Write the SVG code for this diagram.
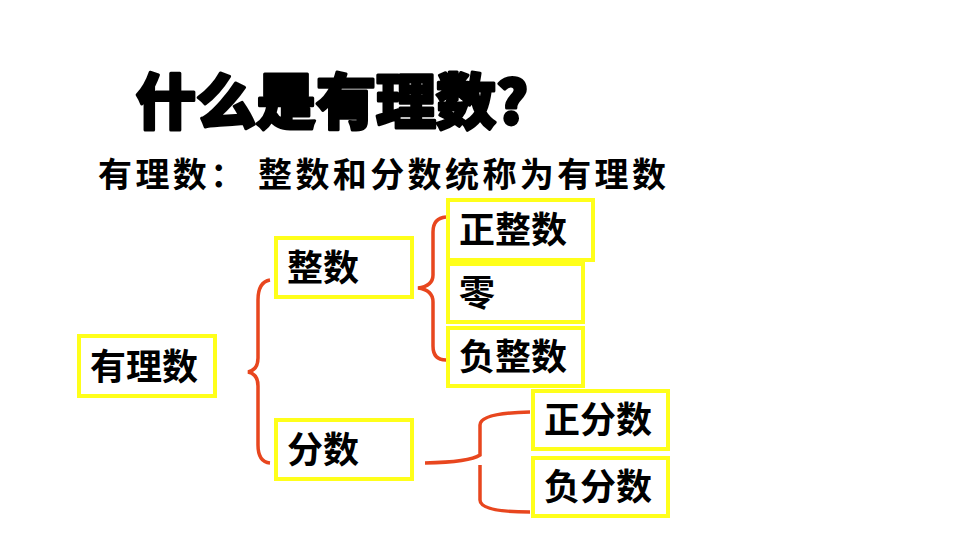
<svg xmlns="http://www.w3.org/2000/svg" width="960" height="558" viewBox="0 0 960 558">
<style>
.b{fill:#fff;stroke:#ffff1a;stroke-width:4}
.t{font-family:"Noto Sans CJK SC","Liberation Sans",sans-serif;font-weight:bold;font-size:36px;fill:#000}
.s{font-family:"Noto Sans CJK SC","Liberation Sans",sans-serif;font-weight:bold;font-size:34px;fill:#000;letter-spacing:3.4px}
.c{fill:none;stroke:#e8461e;stroke-width:3.5}
</style>
<rect width="960" height="558" fill="#fff"/>
<text x="136" y="124" font-family="Noto Sans CJK SC,sans-serif" font-weight="900" font-size="60" stroke="#000" stroke-width="3" stroke-linejoin="round">什么是有理数?</text>
<text class="s" x="98" y="187">有理数：</text>
<text class="s" x="258" y="187">整数和分数统称为有理数</text>
<g id="connectors">
<path class="c" d="M270,280 Q258,282 258,300 L258,358 Q258,370 248,372 Q258,374 258,386 L258,445 Q258,462 270,463"/>
<path class="c" d="M446,217 Q433,218 433,232 L433,275 Q433,286 418,288 Q433,290 433,302 L433,346 Q433,360 446,360"/>
<path class="c" d="M425,463 Q470,462 480,455 L480,425 Q480,413 530,412 M480,465 L480,500 Q480,512 530,512"/>
</g>
<g id="n1"><rect class="b" x="79" y="336" width="136" height="60"/><text class="t" x="90" y="380">有理数</text></g>
<g id="n2"><rect class="b" x="276" y="238" width="136" height="59"/><text class="t" x="287" y="281">整数</text></g>
<g id="n3"><rect class="b" x="276" y="420" width="136" height="59"/><text class="t" x="287" y="463">分数</text></g>
<g id="n4"><rect class="b" x="448" y="200" width="145" height="60"/><text class="t" x="459" y="243">正整数</text></g>
<g id="n5"><rect class="b" x="448" y="264" width="135" height="58"/><text class="t" x="459" y="306">零</text></g>
<g id="n6"><rect class="b" x="448" y="328" width="135" height="58"/><text class="t" x="459" y="370">负整数</text></g>
<g id="n7"><rect class="b" x="533" y="391" width="135" height="58"/><text class="t" x="544" y="433">正分数</text></g>
<g id="n8"><rect class="b" x="533" y="458" width="135" height="58"/><text class="t" x="544" y="500">负分数</text></g>
</svg>
